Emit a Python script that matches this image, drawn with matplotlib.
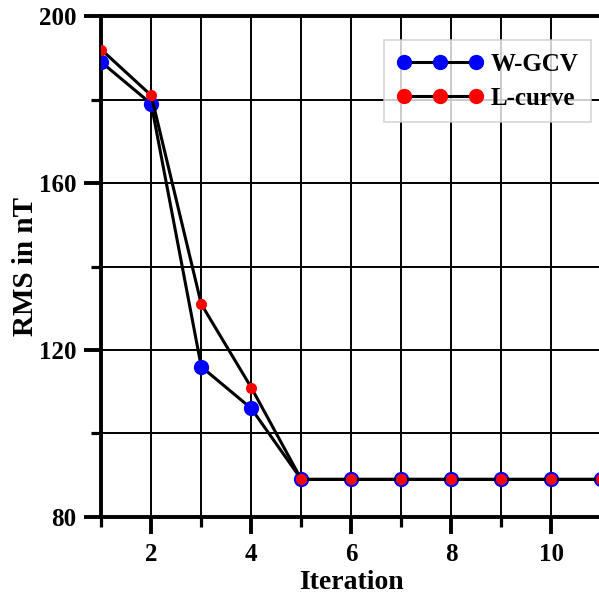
import matplotlib.pyplot as plt
from matplotlib.ticker import MultipleLocator

iterations = [1, 2, 3, 4, 5, 6, 7, 8, 9, 10, 11]
wgcv = [189, 179, 116, 106, 89, 89, 89, 89, 89, 89, 89]
lcurve = [192, 181, 131, 111, 89, 89, 89, 89, 89, 89, 89]

plt.rcParams['font.family'] = ['Liberation Serif', 'DejaVu Serif']
plt.rcParams['font.weight'] = 'bold'

fig = plt.figure(figsize=(5.99, 5.99), dpi=100)
ax = fig.add_axes([0.169, 0.137, 0.835, 0.836])

ax.plot(iterations, wgcv, color='black', lw=2.2, marker='o', ms=10,
        mfc='blue', mec='blue', label='W-GCV', zorder=3)
ax.plot(iterations, lcurve, color='black', lw=2.2, marker='o', ms=7,
        mfc='red', mec='red', label='L-curve', zorder=4)

ax.set_xlim(1, 11)
ax.set_ylim(80, 200)
ax.xaxis.set_major_locator(MultipleLocator(2))
ax.xaxis.set_minor_locator(MultipleLocator(1))
ax.yaxis.set_major_locator(MultipleLocator(40))
ax.yaxis.set_minor_locator(MultipleLocator(20))
ax.grid(True, which='both', color='black', lw=1.4)
ax.set_axisbelow(True)

ax.spines['right'].set_visible(False)
for s in ['left', 'bottom', 'top']:
    ax.spines[s].set_linewidth(2.8)
ax.tick_params(which='major', length=12, width=2.8, direction='out', labelsize=18)
ax.tick_params(which='minor', length=7, width=2.3, direction='out')
ax.tick_params(axis='x', which='both', top=False)
ax.tick_params(axis='x', pad=7)
ax.tick_params(axis='y', pad=6)

ax.set_xlabel('Iteration', fontsize=20, fontweight='bold', labelpad=3)
ax.set_ylabel('RMS in nT', fontsize=21, fontweight='bold', labelpad=0)

leg = ax.legend(loc='upper right', bbox_to_anchor=(0.98, 0.952), numpoints=3,
                fontsize=18, frameon=True, fancybox=False, borderpad=0.5,
                borderaxespad=0, handlelength=3.5, handletextpad=0.3,
                labelspacing=0.45)
leg.get_frame().set_edgecolor('#cccccc')
leg.get_frame().set_linewidth(1.2)
for h in leg.legend_handles:
    h.set_markersize(10)

fig.savefig('out.png', dpi=100)
